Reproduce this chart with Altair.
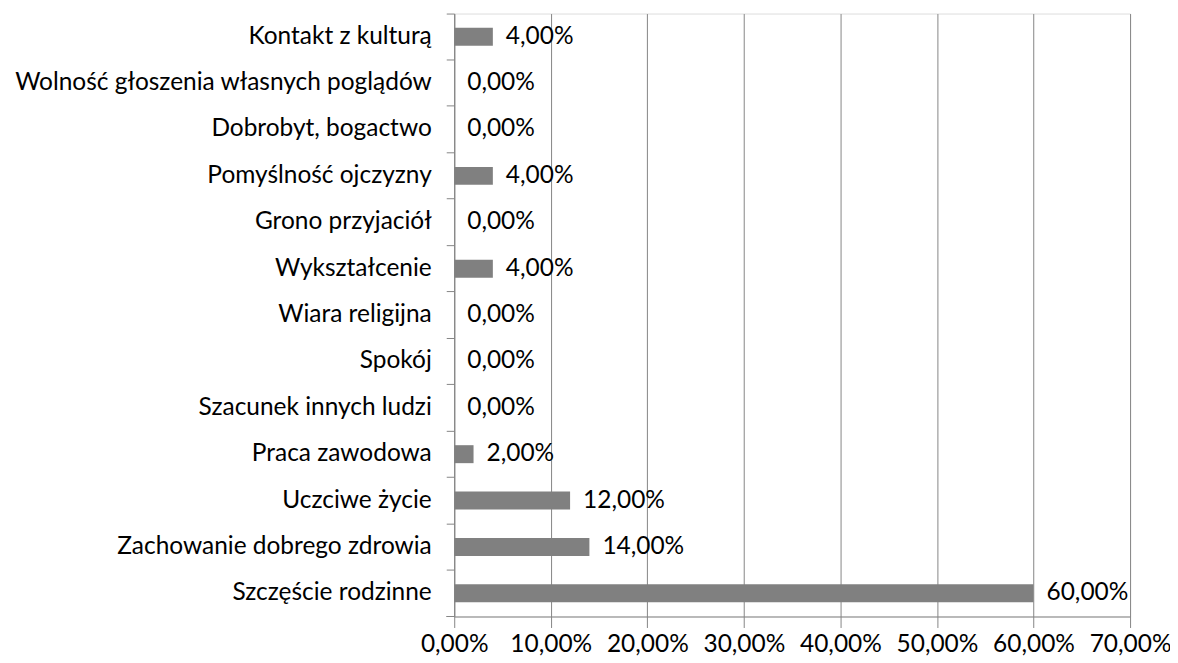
import altair as alt
import pandas as pd

categories = [
    "Kontakt z kulturą",
    "Wolność głoszenia własnych poglądów",
    "Dobrobyt, bogactwo",
    "Pomyślność ojczyzny",
    "Grono przyjaciół",
    "Wykształcenie",
    "Wiara religijna",
    "Spokój",
    "Szacunek innych ludzi",
    "Praca zawodowa",
    "Uczciwe życie",
    "Zachowanie dobrego zdrowia",
    "Szczęście rodzinne",
]
values = [0.04, 0.0, 0.0, 0.04, 0.0, 0.04, 0.0, 0.0, 0.0, 0.02, 0.12, 0.14, 0.60]
x_ticks = [0, 0.1, 0.2, 0.3, 0.4, 0.5, 0.6, 0.7]

df = pd.DataFrame({"kategoria": categories, "wartosc": values})

FONT = "Lato"
FS = 24.5
GRAY = "#868686"
W, H = 677, 604

y_enc = alt.Y(
    "kategoria:N",
    sort=categories,
    title=None,
    scale=alt.Scale(paddingInner=0, paddingOuter=0),
    axis=alt.Axis(
        bandPosition=0,
        tickSize=8,
        tickColor=GRAY,
        domainColor=GRAY,
        labelPadding=15,
        labelFont=FONT,
        labelFontSize=FS,
        labelColor="#000000",
        labelLimit=500,
        grid=False,
    ),
)
x_enc = alt.X(
    "wartosc:Q",
    title=None,
    scale=alt.Scale(domain=[0, 0.7], nice=False),
    axis=alt.Axis(
        values=x_ticks,
        labelExpr="replace(format(datum.value, '.2%'), '.', ',')",
        tickSize=11,
        tickColor=GRAY,
        domainColor=GRAY,
        gridColor=GRAY,
        gridOpacity=1,
        labelPadding=5,
        labelFont=FONT,
        labelFontSize=FS,
        labelColor="#000000",
        labelFlush=False,
    ),
)

bars = alt.Chart(df).mark_bar(color="#808080", size=18).encode(x=x_enc, y=y_enc)

labels = (
    alt.Chart(df)
    .transform_calculate(lbl="replace(format(datum.wartosc, '.2%'), '.', ',')")
    .mark_text(align="left", baseline="middle", dx=13, font=FONT, fontSize=FS, color="#000000")
    .encode(x="wartosc:Q", y=alt.Y("kategoria:N", sort=categories), text="lbl:N")
)

corner_tick = (
    alt.Chart(pd.DataFrame({"k": [0]}))
    .mark_rule(color=GRAY)
    .encode(x=alt.value(-8), x2=alt.value(0), y=alt.value(H))
)

chart = (
    alt.layer(bars, labels, corner_tick)
    .properties(
        width=W,
        height=H,
        autosize=alt.AutoSizeParams(type="none"),
        padding={"left": 447, "top": 5, "right": 40, "bottom": 40},
    )
    .configure_view(stroke=None)
    .configure(background="white")
)

chart.save("out.html", embed_options={"renderer": "svg", "actions": False})
